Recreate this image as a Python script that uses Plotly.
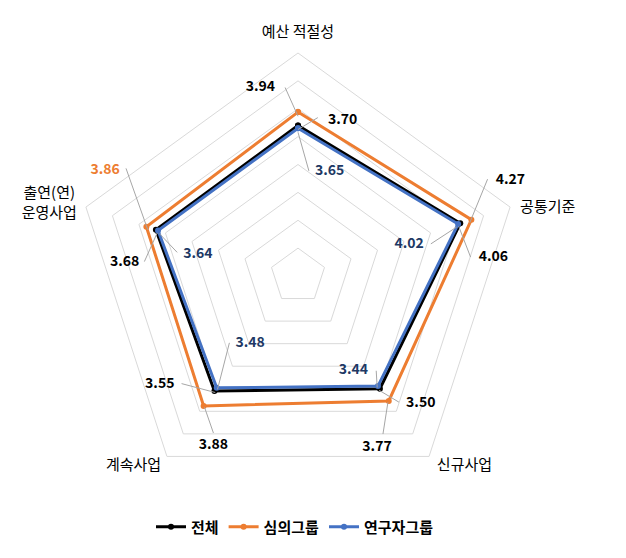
import math
import plotly.graph_objects as go

# ---- data ----
categories = ["예산 적절성", "공통기준", "신규사업", "계속사업", "출연(연)<br>운영사업"]
series_names = ["전체", "심의그룹", "연구자그룹"]
total = [3.70, 4.06, 3.50, 3.55, 3.68]
review = [3.94, 4.27, 3.77, 3.88, 3.86]
research = [3.65, 4.02, 3.44, 3.48, 3.64]

# ---- style ----
colors = ["#000000", "#ED7D31", "#4472C4"]
label_colors = [
    ["#000000"] * 5,
    ["#000000", "#000000", "#000000", "#000000", "#ED7D31"],
    ["#203864"] * 5,
]
# label offsets in pixels (text centre, leader start) relative to each point
label_offsets = [
    [((45, -9), (20, -12)), ((35, 31), (12, 31)), ((42, 13), (20, 12)),
     ((-56, -8), (-34, -9)), ((-33, 30), (-13, 29))],
    [((-38, -29), (-13, -29)), ((41, -43), (18, -44)), ((-11, 46), (-5, 32)),
     ((9, 39), (9, 26)), ((-43, -60), (-22, -62))],
    [((32, 40), (11, 39)), ((-48, 18), (-26, 17)), ((-24, -17), (-1, -17)),
     ((33, -46), (12, -47)), ((39, 21), (18, 19))],
]
# category label offsets in pixels from the outer vertex
cat_offsets = [(0, -25), (40, -2), (37, 9), (-35, 9), (-39, -6)]

PAGE_MARGIN = 8                      # default body margin of the page
W, H = 626 - 2 * PAGE_MARGIN, 558 - 2 * PAGE_MARGIN
CX, CY, RPX = 298 - PAGE_MARGIN, 276 - PAGE_MARGIN, 223
R_MIN, R_MAX = 1, 5
R2_MAX = 5.9
K = RPX / (R_MAX - R_MIN)
R2PX = K * (R2_MAX - R_MIN)
FONT = "Noto Sans CJK KR"
LEGEND_Y = 527 - PAGE_MARGIN

angles = [i * 360 / len(categories) for i in range(len(categories))]


def offset_polar(value, ang, dx, dy):
    rho = (value - R_MIN) * K
    a = math.radians(ang)
    x = rho * math.sin(a) + dx
    y = rho * math.cos(a) - dy
    return R_MIN + math.hypot(x, y) / K, math.degrees(math.atan2(x, y)) % 360


fig = go.Figure()
all_series = [total, review, research]

for s, vals in enumerate(all_series):
    fig.add_trace(go.Scatterpolar(
        r=vals + vals[:1], theta=categories + categories[:1], name=series_names[s],
        mode="lines+markers",
        line=dict(color=colors[s], width=3),
        marker=dict(color=colors[s], size=6),
        subplot="polar",
    ))

# leader lines (overlay polar with numeric angles)
lr, lt = [], []
for s, vals in enumerate(all_series):
    for i, v in enumerate(vals):
        (tdx, tdy), (ldx, ldy) = label_offsets[s][i]
        r0, t0 = offset_polar(v, angles[i], ldx, ldy)
        lr += [r0, v, None]
        lt += [t0, angles[i], None]
fig.add_trace(go.Scatterpolar(r=lr, theta=lt, mode="lines", subplot="polar2",
                              line=dict(color="#A6A6A6", width=1),
                              showlegend=False, hoverinfo="skip", connectgaps=False))

for s, vals in enumerate(all_series):
    tr, tt, txt = [], [], []
    for i, v in enumerate(vals):
        (tdx, tdy), _ = label_offsets[s][i]
        r0, t0 = offset_polar(v, angles[i], tdx, tdy)
        tr.append(r0)
        tt.append(t0)
        txt.append(f"{v:.2f}")
    fig.add_trace(go.Scatterpolar(
        r=tr, theta=tt, mode="text", text=txt, subplot="polar2",
        textfont=dict(family=FONT, size=14, color=label_colors[s], weight="bold"),
        showlegend=False, hoverinfo="skip"))

# category labels
cr, ct = [], []
for i, c in enumerate(categories):
    r0, t0 = offset_polar(R_MAX, angles[i], *cat_offsets[i])
    cr.append(r0)
    ct.append(t0)
fig.add_trace(go.Scatterpolar(
    r=cr, theta=ct, mode="text", text=categories, subplot="polar2",
    textfont=dict(family=FONT, size=15, color="#000000"),
    showlegend=False, hoverinfo="skip"))

fig.update_layout(
    width=W, height=H,
    margin=dict(l=0, r=0, t=0, b=0),
    paper_bgcolor="white", plot_bgcolor="white",
    font=dict(family=FONT, size=14, color="#000000"),
    polar=dict(
        domain=dict(x=[(CX - RPX) / W, (CX + RPX) / W],
                    y=[1 - (CY + RPX) / H, 1 - (CY - RPX) / H]),
        bgcolor="white",
        gridshape="linear",
        radialaxis=dict(range=[R_MIN, R_MAX], dtick=0.5, showticklabels=False,
                        ticks="", showline=False, gridcolor="#D9D9D9", gridwidth=1),
        angularaxis=dict(rotation=90, direction="clockwise", type="category",
                         showticklabels=False, ticks="",
                         showgrid=False, showline=True, linecolor="#D9D9D9",
                         linewidth=1),
    ),
    polar2=dict(
        domain=dict(x=[max(0, (CX - R2PX) / W), min(1, (CX + R2PX) / W)],
                    y=[max(0, 1 - (CY + R2PX) / H), min(1, 1 - (CY - R2PX) / H)]),
        bgcolor="rgba(0,0,0,0)",
        radialaxis=dict(range=[R_MIN, R2_MAX], visible=False),
        angularaxis=dict(rotation=90, direction="clockwise", thetaunit="degrees",
                         visible=False),
    ),
    legend=dict(orientation="h", x=(295 - PAGE_MARGIN) / W, xanchor="center",
                y=1 - LEGEND_Y / H, yanchor="middle",
                font=dict(family=FONT, size=15, weight="bold"),
                itemwidth=30),
)

fig.write_html("out.html")
